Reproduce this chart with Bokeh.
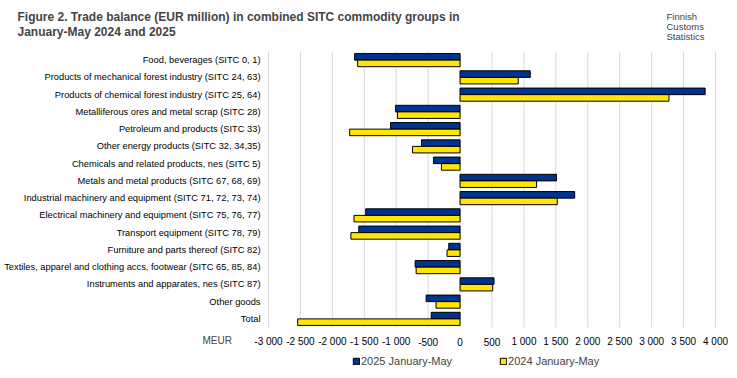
from bokeh.plotting import figure
from bokeh.models import (FactorRange, Label, Legend, LegendItem,
                          ColumnDataSource, Range1d)
from bokeh.core.properties import value
from bokeh.transform import dodge
from bokeh.embed import file_html
from bokeh.resources import INLINE

categories = [
    "Food, beverages (SITC 0, 1)",
    "Products of mechanical forest industry (SITC 24, 63)",
    "Products of chemical forest industry (SITC 25, 64)",
    "Metalliferous ores and metal scrap (SITC 28)",
    "Petroleum and products (SITC 33)",
    "Other energy products (SITC 32, 34,35)",
    "Chemicals and related products, nes (SITC 5)",
    "Metals and metal products (SITC 67, 68, 69)",
    "Industrial machinery and equipment (SITC 71, 72, 73, 74)",
    "Electrical machinery and equipment (SITC 75, 76, 77)",
    "Transport equipment (SITC 78, 79)",
    "Furniture and parts thereof (SITC 82)",
    "Textiles, apparel and clothing accs, footwear (SITC 65, 85, 84)",
    "Instruments and apparates, nes (SITC 87)",
    "Other goods",
    "Total",
]
values_2025 = [-1651, 1099, 3838, -1010, -1089, -604, -417, 1510, 1795,
               -1478, -1586, -177, -704, 532, -532, -452]
values_2024 = [-1604, 911, 3271, -979, -1729, -745, -292, 1198, 1522,
               -1661, -1710, -204, -688, 511, -376, -2543]
series_names = ["2025 January-May", "2024 January-May"]
tick_values = list(range(-3000, 4001, 500))
tick_labels = ["-3 000", "-2 500", "-2 000", "-1 500", "-1 000", "-500", "0",
               "500", "1 000", "1 500", "2 000", "2 500", "3 000", "3 500", "4 000"]

NAVY = "#00338D"
YELLOW = "#FFE500"
GRID = "#D9D9D9"
FONT = "Liberation Sans"

# layout (pixels): canvas 737x378, value area x 268..715, y 51..327
W, H = 737, 378
PL, PR, PT, PB = 268, 715, 51, 327
XMIN, XMAX = tick_values[0], tick_values[-1]
NCAT = len(categories)
upx = (XMAX - XMIN) / (PR - PL)          # data units per pixel (x)
cpx = (PB - PT) / NCAT                   # pixels per category (y)

def sy(py):  # page y -> synthetic categorical coordinate
    return NCAT - (py - PT) / cpx

src = ColumnDataSource(dict(cat=categories, v25=values_2025, v24=values_2024,
                            zero=[0] * NCAT))

p = figure(width=W, height=H, output_backend="svg", toolbar_location=None,
           x_axis_location=None, y_axis_location=None,
           x_range=Range1d(XMIN - PL * upx, XMAX + (W - PR) * upx),
           y_range=FactorRange(factors=list(reversed(categories)),
                               range_padding=PT / cpx, range_padding_units="absolute"),
           min_border=0)
p.min_border_left = p.min_border_right = p.min_border_top = p.min_border_bottom = 0
p.outline_line_color = None
p.grid.visible = False

# vertical grid lines at the ticks
p.segment(x0=tick_values, x1=tick_values, y0=[0] * len(tick_values),
          y1=[NCAT] * len(tick_values), line_color=GRID, line_width=1)

r25 = p.hbar(y=dodge("cat", 0.19, range=p.y_range), left="zero", right="v25",
             height=0.38, source=src, fill_color=NAVY, line_color="black", line_width=1)
r24 = p.hbar(y=dodge("cat", -0.19, range=p.y_range), left="zero", right="v24",
             height=0.38, source=src, fill_color=YELLOW, line_color="black", line_width=1)

# category labels (y axis)
p.text(x=[XMIN - 8 * upx] * NCAT, y=categories, text=categories,
       text_align="right", text_baseline="middle", text_font=value(FONT),
       text_font_size="9.3px", text_color="black")

# value tick labels (x axis)
p.text(x=tick_values, y=[sy(341)] * len(tick_values), text=tick_labels,
       text_align="center", text_baseline="middle", text_font=value(FONT),
       text_font_size="10px", text_color="black")

legend = Legend(items=[LegendItem(label=series_names[0], renderers=[r25]),
                       LegendItem(label=series_names[1], renderers=[r24])],
                orientation="horizontal", location=(352, H - 367),
                glyph_width=8, glyph_height=8, label_standoff=1, spacing=47,
                padding=0, margin=0, border_line_color=None,
                background_fill_alpha=0,
                label_text_font=FONT, label_text_font_size="11px",
                label_height=10)
p.add_layout(legend, "center")

def lab(px, py, text, **kw):
    p.add_layout(Label(x=px, y=H - py, x_units="screen", y_units="screen",
                       text=text, text_baseline="middle", **kw))

lab(17, 16, "Figure 2. Trade balance (EUR million) in combined SITC commodity groups in",
    text_font=FONT, text_font_style="bold", text_font_size="12px")
lab(17, 31, "January-May 2024 and 2025",
    text_font=FONT, text_font_style="bold", text_font_size="12px")
for i, t in enumerate(["Finnish", "Customs", "Statistics"]):
    lab(666, 15.5 + 10.2 * i, t, text_font=FONT, text_font_size="9.5px")
lab(202, 340, "MEUR", text_font=FONT, text_font_size="10px")

open("out.html", "w").write(file_html(p, INLINE))
